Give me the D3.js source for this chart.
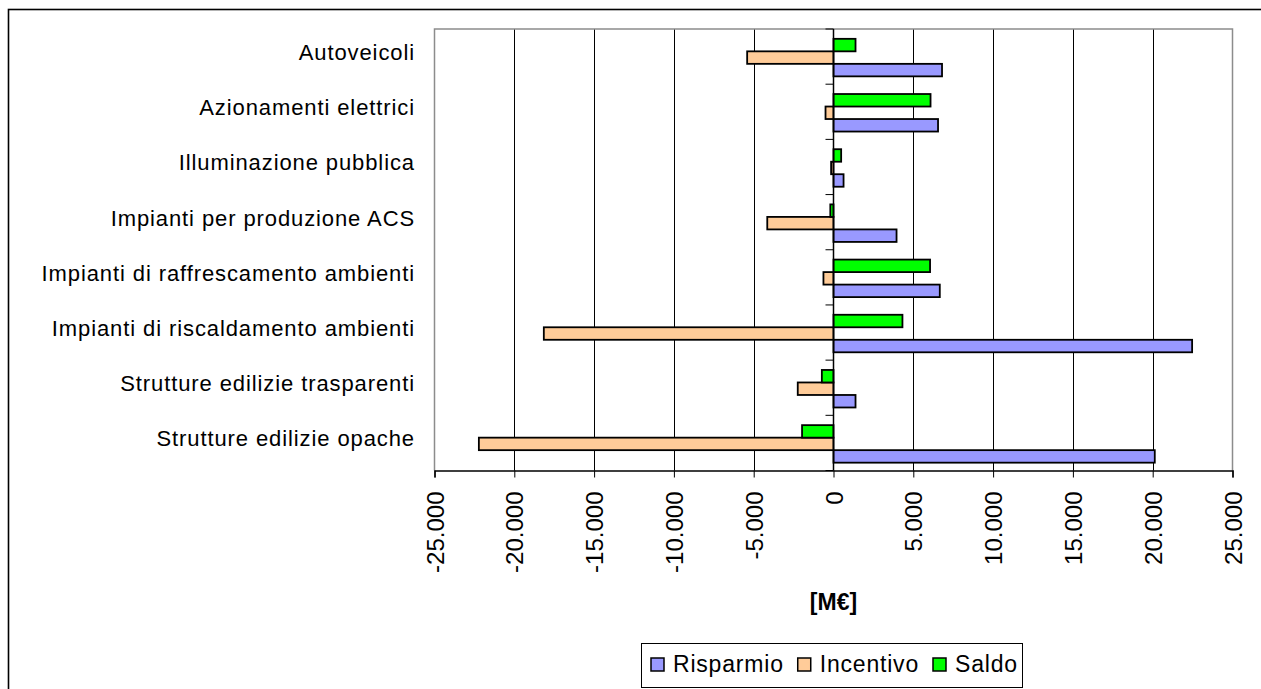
<!DOCTYPE html>
<html>
<head>
<meta charset="utf-8">
<script src="https://cdn.jsdelivr.net/npm/d3@7"></script>
<style>
  body { margin: 0; background: #fff; }
  svg { display: block; }
  text { font-family: "Liberation Sans", Arial, sans-serif; fill: #000; }
</style>
</head>
<body>
<svg id="chart" width="1261" height="689"></svg>
<script>
// ---- data (top-to-bottom order as displayed) ----
const categories = [
  "Autoveicoli",
  "Azionamenti elettrici",
  "Illuminazione pubblica",
  "Impianti per produzione ACS",
  "Impianti di raffrescamento ambienti",
  "Impianti di riscaldamento ambienti",
  "Strutture edilizie trasparenti",
  "Strutture edilizie opache"
];
const seriesNames = ["Risparmio", "Incentivo", "Saldo"];
const risparmio = [6800, 6550, 630, 3950, 6660, 22470, 1380, 20130];
const incentivo = [-5410, -500, -150, -4150, -630, -18150, -2240, -22220];
const saldo     = [1380, 6080, 480, -200, 6050, 4320, -730, -1970];
const xTicks = [-25000, -20000, -15000, -10000, -5000, 0, 5000, 10000, 15000, 20000, 25000];
const axisTitle = "[M€]";

const seriesValues = { Risparmio: risparmio, Incentivo: incentivo, Saldo: saldo };
const seriesColors = { Risparmio: "#9999FF", Incentivo: "#FFCC99", Saldo: "#00FF00" };

// ---- layout ----
const svg = d3.select("#chart");
const plot = { left: 434.5, right: 1232.5, top: 29, bottom: 470.5 };

// outer chart frame
svg.append("rect")
  .attr("x", 8.5).attr("y", 9.5).attr("width", 1400).attr("height", 900)
  .attr("fill", "#fff").attr("stroke", "#000").attr("stroke-width", 1.6);

const x = d3.scaleLinear().domain([-25000, 25000]).range([plot.left, plot.right]);
const yCat = d3.scaleBand().domain(categories).range([plot.top, plot.bottom]);
const yGroup = d3.scaleBand().domain(categories)
  .range([plot.top + 1, plot.bottom + 1])
  .paddingInner(0.32).paddingOuter(0.16);
// within a group: Saldo on top, Risparmio at the bottom
const ySeries = d3.scaleBand().domain(seriesNames.slice().reverse())
  .range([0, yGroup.bandwidth()]);

const locale = d3.formatLocale({ decimal: ",", thousands: ".", grouping: [3], currency: ["", "€"], minus: "-" });
const fmt = locale.format(",");

// plot background
svg.append("rect")
  .attr("x", plot.left).attr("y", plot.top)
  .attr("width", plot.right - plot.left).attr("height", plot.bottom - plot.top)
  .attr("fill", "#fff");

// vertical gridlines
svg.append("g").selectAll("line")
  .data(xTicks.filter(d => d !== 0 && d !== -25000 && d !== 25000))
  .join("line")
  .attr("x1", d => Math.round(x(d)) + 0.5).attr("x2", d => Math.round(x(d)) + 0.5)
  .attr("y1", plot.top).attr("y2", plot.bottom)
  .attr("stroke", "#000").attr("stroke-width", 1);

// plot border (gray) left, top, right
svg.append("path")
  .attr("d", `M${plot.left},${plot.bottom} V${plot.top} H${plot.right} V${plot.bottom}`)
  .attr("fill", "none").attr("stroke", "#8c8c8c").attr("stroke-width", 1.5);

// bars
const barData = [];
categories.forEach((c, i) => {
  seriesNames.forEach(s => barData.push({ cat: c, series: s, value: seriesValues[s][i] }));
});
svg.append("g").selectAll("rect")
  .data(barData)
  .join("rect")
  .attr("x", d => x(Math.min(0, d.value)))
  .attr("width", d => Math.abs(x(d.value) - x(0)))
  .attr("y", d => yGroup(d.cat) + ySeries(d.series))
  .attr("height", ySeries.bandwidth())
  .attr("fill", d => seriesColors[d.series])
  .attr("stroke", "#000").attr("stroke-width", 1.8);

// vertical (category) axis at zero
const zeroX = x(0);
svg.append("line")
  .attr("x1", zeroX).attr("x2", zeroX)
  .attr("y1", plot.top).attr("y2", plot.bottom)
  .attr("stroke", "#000").attr("stroke-width", 1.5);
const catTicks = categories.map(c => yCat(c)).concat([plot.bottom]);
svg.append("g").selectAll("line")
  .data(catTicks)
  .join("line")
  .attr("x1", zeroX - 8).attr("x2", zeroX)
  .attr("y1", d => d).attr("y2", d => d)
  .attr("stroke", "#000").attr("stroke-width", 1);

// category labels
svg.append("g").selectAll("text")
  .data(categories)
  .join("text")
  .attr("x", 415)
  .attr("y", d => yCat(d) + yCat.bandwidth() / 2 + 3.5)
  .attr("text-anchor", "end")
  .attr("font-size", 22)
  .attr("letter-spacing", 0.9)
  .text(d => d);

// bottom value axis
const xAxis = d3.axisBottom(x).tickValues(xTicks).tickSize(7).tickFormat(fmt);
const gx = svg.append("g").attr("transform", `translate(0,${plot.bottom})`).call(xAxis);
gx.select(".domain").attr("stroke", "#000").attr("stroke-width", 1.5);
gx.selectAll(".tick line").attr("stroke", "#000").attr("stroke-width", 1);
gx.selectAll(".tick text")
  .attr("font-size", 24)
  .attr("font-family", "\"Liberation Sans\", Arial, sans-serif")
  .attr("text-anchor", "end")
  .attr("transform", "rotate(-90)")
  .attr("x", -21)
  .attr("y", 0)
  .attr("dy", "0.36em");

// axis title
svg.append("text")
  .attr("x", zeroX).attr("y", 610)
  .attr("text-anchor", "middle")
  .attr("font-size", 23).attr("font-weight", "bold")
  .text(axisTitle);

// legend
const legend = svg.append("g");
legend.append("rect")
  .attr("x", 641.5).attr("y", 643.5).attr("width", 381).attr("height", 44)
  .attr("fill", "#fff").attr("stroke", "#000").attr("stroke-width", 1);
let lx = 651;
seriesNames.forEach(s => {
  legend.append("rect")
    .attr("x", lx).attr("y", 658).attr("width", 13).attr("height", 13)
    .attr("fill", seriesColors[s]).attr("stroke", "#000").attr("stroke-width", 1.5);
  const t = legend.append("text")
    .attr("x", lx + 22).attr("y", 671.5)
    .attr("font-size", 23).attr("letter-spacing", 0.8)
    .text(s);
  lx += 22 + t.node().getComputedTextLength() + 14;
});
</script>
</body>
</html>
